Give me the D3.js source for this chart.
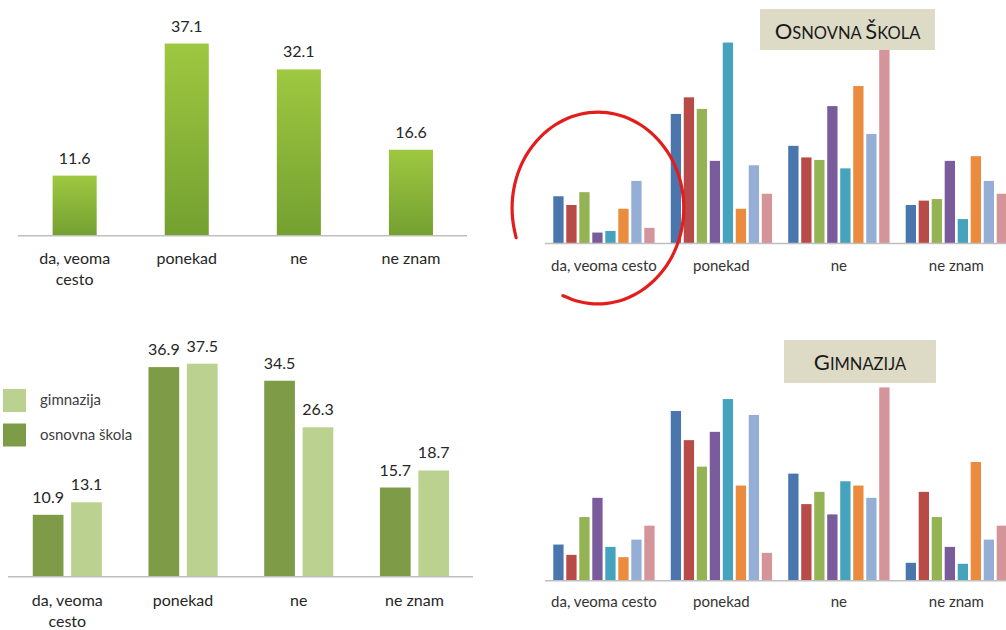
<!DOCTYPE html>
<html>
<head>
<meta charset="utf-8">
<script src="https://cdn.jsdelivr.net/npm/d3@7"></script>
<style>
  html, body { margin: 0; padding: 0; background: #ffffff; }
  svg { display: block; font-family: Lato, "Noto Sans", sans-serif; }
</style>
</head>
<body>
<svg id="chart" width="1006" height="630"></svg>
<script>
// ---------- DATA ----------
const categories = ["da, veoma cesto", "ponekad", "ne", "ne znam"];
const totalValues = [11.6, 37.1, 32.1, 16.6];

const schoolTypes = ["osnovna škola", "gimnazija"];
const osnovnaValues = [10.9, 36.9, 34.5, 15.7];
const gimnazijaValues = [13.1, 37.5, 26.3, 18.7];
const legendOrder = ["gimnazija", "osnovna škola"];

const seriesNames = ["1", "2", "3", "4", "5", "6", "7", "8"];
// Osnovna škola – each series across the 4 categories (%)
const osnovnaSeries = [
  [15.1, 41.4, 31.2, 12.3],
  [12.3, 46.7, 27.5, 13.7],
  [16.4, 43.0, 26.7, 14.2],
  [3.5, 26.4, 43.9, 26.4],
  [4.0, 64.2, 24.0, 7.8],
  [11.1, 11.1, 50.3, 27.9],
  [20.0, 25.0, 35.0, 20.0],
  [5.0, 15.9, 63.2, 15.9]
];
// Gimnazija – each series across the 4 categories (%)
const gimnazijaSeries = [
  [10.9, 51.2, 32.3, 5.4],
  [7.8, 42.4, 23.1, 26.8],
  [19.2, 34.4, 26.8, 19.2],
  [25.0, 44.9, 20.0, 10.2],
  [10.2, 54.8, 30.0, 5.1],
  [7.1, 28.7, 28.7, 35.8],
  [12.4, 50.0, 25.0, 12.4],
  [16.6, 8.4, 58.3, 16.6]
];

// ---------- STYLE ----------
const seriesColors = ["#4a76ad", "#b84a48", "#93b355", "#7a5c9c", "#46a3bd", "#ea8b3e", "#94aed6", "#d5939a"];
const typeColors = { "osnovna škola": "#7e9c47", "gimnazija": "#bad18f" };
const axisColor = "#bfbfbf";
const textColor = "#262626";

const svg = d3.select("#chart");

// gradient for top-left bars
const defs = svg.append("defs");
const grad = defs.append("linearGradient").attr("id", "greenGrad")
  .attr("x1", 0).attr("y1", 0).attr("x2", 0).attr("y2", 1);
grad.append("stop").attr("offset", "0%").attr("stop-color", "#9ec840");
grad.append("stop").attr("offset", "100%").attr("stop-color", "#74a031");

function wrapTwo(sel, text, lineH) {
  const words = text.split(" ");
  if (words.length > 1 && text.length > 8) {
    const first = words.slice(0, words.length - 1).join(" ");
    const last = words[words.length - 1];
    sel.append("tspan").attr("x", sel.attr("x")).attr("dy", 0).text(first);
    sel.append("tspan").attr("x", sel.attr("x")).attr("dy", lineH).text(last);
  } else {
    sel.text(text);
  }
}

// ---------- TOP-LEFT: total ----------
{
  const base = 235.7;
  const x = d3.scaleBand().domain(categories).range([18.6, 467]).paddingInner(0.607).paddingOuter(0.3035);
  const y = d3.scaleLinear().domain([0, 40]).range([base, base - 5.18 * 40]);
  const g = svg.append("g");
  g.selectAll("rect").data(categories).join("rect")
    .attr("x", d => x(d)).attr("width", x.bandwidth())
    .attr("y", (d, i) => y(totalValues[i]))
    .attr("height", (d, i) => base - y(totalValues[i]))
    .attr("fill", "url(#greenGrad)");
  g.append("line").attr("x1", 18).attr("x2", 467).attr("y1", base).attr("y2", base)
    .attr("stroke", axisColor).attr("stroke-width", 1.5);
  g.selectAll("text.val").data(categories).join("text").attr("class", "val")
    .attr("x", d => x(d) + x.bandwidth() / 2)
    .attr("y", (d, i) => y(totalValues[i]) - 12)
    .attr("text-anchor", "middle").attr("font-size", 16).attr("fill", textColor)
    .text((d, i) => totalValues[i].toFixed(1));
  g.selectAll("text.cat").data(categories).join("text").attr("class", "cat")
    .attr("x", d => x(d) + x.bandwidth() / 2)
    .attr("y", 264)
    .attr("text-anchor", "middle").attr("font-size", 16).attr("fill", textColor)
    .each(function (d) { wrapTwo(d3.select(this), d, 21); });
}

// ---------- BOTTOM-LEFT: osnovna vs gimnazija ----------
{
  const base = 576.7;
  const x0 = d3.scaleBand().domain(categories).range([9.45, 472.35]).paddingInner(0.403).paddingOuter(0.2015);
  const x1 = d3.scaleBand().domain(schoolTypes).range([0, x0.bandwidth()]).paddingInner(0.2);
  const y = d3.scaleLinear().domain([0, 40]).range([base, base - 5.68 * 40]);
  const valuesByType = { "osnovna škola": osnovnaValues, "gimnazija": gimnazijaValues };
  const g = svg.append("g");
  const groups = g.selectAll("g.grp").data(categories).join("g").attr("class", "grp")
    .attr("transform", d => `translate(${x0(d)},0)`);
  groups.selectAll("rect").data((d, i) => schoolTypes.map(t => ({ t, v: valuesByType[t][i] })))
    .join("rect")
    .attr("x", d => x1(d.t)).attr("width", x1.bandwidth())
    .attr("y", d => y(d.v)).attr("height", d => base - y(d.v))
    .attr("fill", d => typeColors[d.t]);
  groups.selectAll("text").data((d, i) => schoolTypes.map(t => ({ t, v: valuesByType[t][i] })))
    .join("text")
    .attr("x", d => x1(d.t) + x1.bandwidth() / 2)
    .attr("y", d => y(d.v) - 12)
    .attr("text-anchor", "middle").attr("font-size", 16).attr("fill", textColor)
    .text(d => d.v.toFixed(1));
  g.append("line").attr("x1", 8).attr("x2", 473).attr("y1", base).attr("y2", base)
    .attr("stroke", axisColor).attr("stroke-width", 1.5);
  g.selectAll("text.cat").data(categories).join("text").attr("class", "cat")
    .attr("x", d => x0(d) + x0.bandwidth() / 2)
    .attr("y", 606)
    .attr("text-anchor", "middle").attr("font-size", 16).attr("fill", textColor)
    .each(function (d) { wrapTwo(d3.select(this), d, 21); });
  // legend
  const lg = g.append("g");
  legendOrder.forEach((t, i) => {
    lg.append("rect").attr("x", 3).attr("y", 389 + i * 34.5).attr("width", 23).attr("height", 23)
      .attr("fill", typeColors[t]);
    lg.append("text").attr("x", 40).attr("y", 405 + i * 34.5).attr("font-size", 15)
      .attr("fill", "#404040").text(t);
  });
}

// ---------- RIGHT: 8-series grouped charts ----------
function drawSeriesChart(seriesData, base, pxPerUnit, labelY, boxX, boxY, boxW, boxH, titleParts) {
  const x0 = d3.scaleBand().domain(categories).range([545.2, 545.2 + 4 * 117.47]).paddingInner(0.1376).paddingOuter(0.0688);
  const x1 = d3.scaleBand().domain(seriesNames).range([0, x0.bandwidth()]).paddingInner(0.208);
  const y = d3.scaleLinear().domain([0, 70]).range([base, base - pxPerUnit * 70]);
  const g = svg.append("g");
  const groups = g.selectAll("g.grp").data(categories).join("g").attr("class", "grp")
    .attr("transform", d => `translate(${x0(d)},0)`);
  groups.selectAll("rect").data((d, ci) => seriesNames.map((s, si) => ({ s, si, v: seriesData[si][ci] })))
    .join("rect")
    .attr("x", d => x1(d.s)).attr("width", x1.bandwidth())
    .attr("y", d => y(d.v)).attr("height", d => base - y(d.v))
    .attr("fill", d => seriesColors[d.si]);
  g.append("line").attr("x1", 545).attr("x2", 1006).attr("y1", base).attr("y2", base)
    .attr("stroke", axisColor).attr("stroke-width", 1.5);
  g.selectAll("text.cat").data(categories).join("text").attr("class", "cat")
    .attr("x", d => x0(d) + x0.bandwidth() / 2)
    .attr("y", labelY)
    .attr("text-anchor", "middle").attr("font-size", 15).attr("fill", "#333333")
    .text(d => d);
  // title box
  g.append("rect").attr("x", boxX).attr("y", boxY).attr("width", boxW).attr("height", boxH)
    .attr("fill", "#dddbc6");
  const t = g.append("text").attr("x", boxX + boxW / 2).attr("y", boxY + 29.5)
    .attr("text-anchor", "middle").attr("fill", "#1a1a1a");
  titleParts.forEach(p => t.append("tspan").attr("font-size", p[1]).text(p[0]));
  return { x0, x1, y };
}

const topRight = drawSeriesChart(osnovnaSeries, 243.5, 3.13, 271, 760, 9, 175, 41,
  [["O", 22], ["SNOVNA ", 16.5], ["Š", 22], ["KOLA", 16.5]]);
drawSeriesChart(gimnazijaSeries, 580.7, 3.315, 607, 784, 340, 152, 43,
  [["G", 22], ["IMNAZIJA", 16.5]]);

// ---------- red hand-drawn circle annotation around first category ----------
{
  const cx = topRight.x0(categories[0]) + topRight.x0.bandwidth() / 2 - 6;
  const cy = 208, rx = 86, ry = 96;
  const angles = d3.range(162, 478, 6).map(a => a * Math.PI / 180);
  const pts = angles.map(t => [cx + rx * Math.cos(t), cy + ry * Math.sin(t)]);
  svg.append("path").attr("d", d3.line().curve(d3.curveBasis)(pts))
    .attr("fill", "none").attr("stroke", "#e31c1c").attr("stroke-width", 3.2)
    .attr("stroke-linecap", "round");
}
</script>
</body>
</html>
